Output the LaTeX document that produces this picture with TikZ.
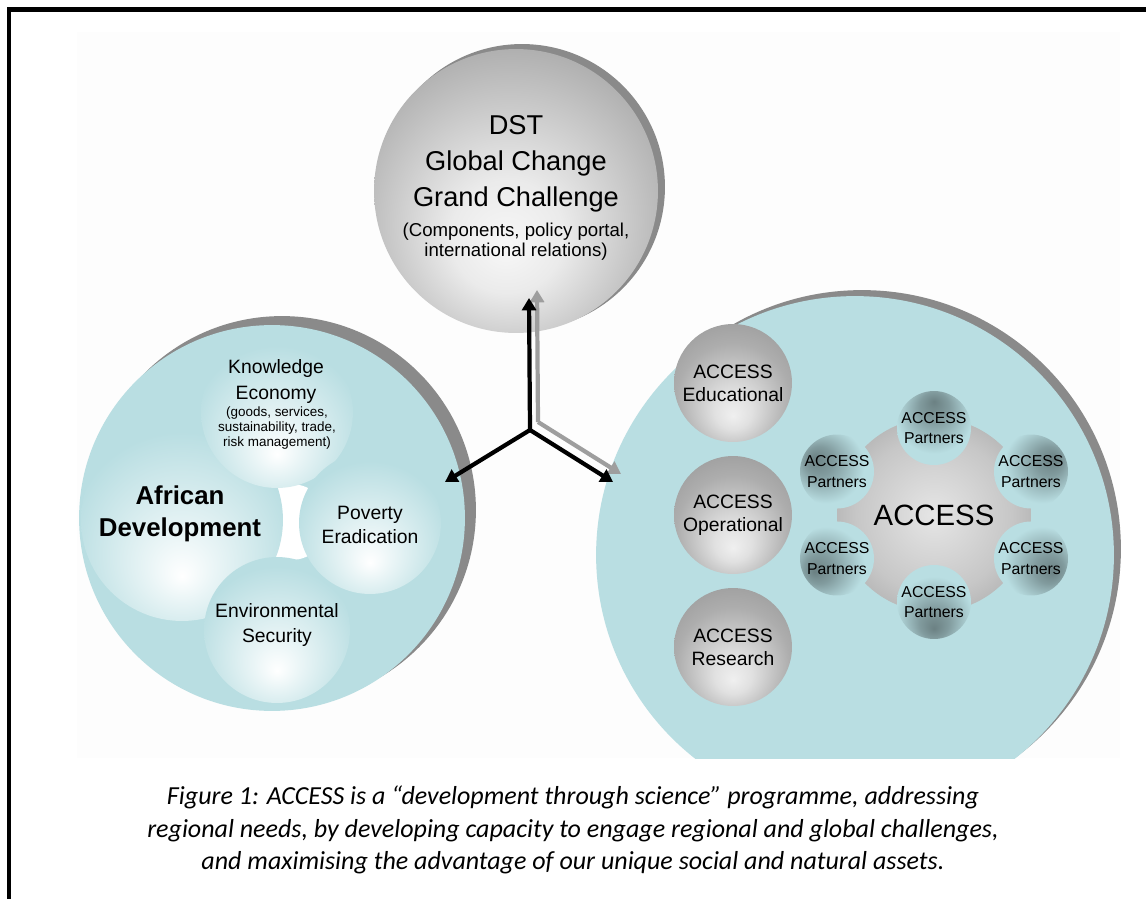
\documentclass[tikz,border=0pt]{standalone}
\usepackage{fontspec}
\setmainfont{Liberation Sans}
\newfontfamily\capfont{Carlito}
\usetikzlibrary{arrows.meta}

\definecolor{seafoam}{RGB}{185,222,226}
\definecolor{rimgrey}{RGB}{138,138,138}
\definecolor{spokegrey}{RGB}{158,158,158}

% shaded balls
\pgfdeclareradialshading{greyball}{\pgfpoint{-2bp}{-10bp}}{color(0bp)=(black!3); color(10bp)=(black!8); color(30bp)=(black!32); color(50bp)=(black!50)}
\pgfdeclareradialshading{smallball}{\pgfpoint{0bp}{-14bp}}{color(0bp)=(black!6); color(8bp)=(black!12); color(24bp)=(black!32); color(50bp)=(black!50)}
\pgfdeclareradialshading{bubble}{\pgfpoint{0bp}{-14bp}}{color(0bp)=(white); color(8bp)=(white!70!seafoam); color(28bp)=(seafoam); color(47bp)=(seafoam); color(50bp)=(seafoam!88!black)}
\pgfdeclareradialshading{cog}{\pgfpoint{0bp}{0bp}}{color(0bp)=(black!10); color(20bp)=(black!22); color(40bp)=(black!42); color(50bp)=(black!48)}
\pgfdeclareradialshading{partnerglow}{\pgfpoint{0bp}{18bp}}{color(0bp)=(black!42!seafoam); color(10bp)=(black!30!seafoam); color(26bp)=(seafoam); color(50bp)=(seafoam)}

\newcommand{\fs}[2]{\fontsize{#1}{#2}\selectfont}

\begin{document}
\begin{tikzpicture}[x=0.02cm,y=-0.02cm,
    disc/.style={circle,inner sep=0pt,minimum size=#1*0.04cm},
    rim/.style={fill=rimgrey},
    lbl/.style={align=center,inner sep=0pt},
    spoke/.style={line width=2.4pt,-{Triangle[length=7pt,width=8pt]}},
    spokeshadow/.style={spoke,spokegrey}]
  \useasboundingbox (0,0) rectangle (1146,899);
  \fill[black!0.6] (77,32) rectangle (1120,758);
  \draw[line width=2.5pt] (1146,9.5) -- (8.8,9.5) -- (8.8,899);

  % top ball
  \node[disc=143,rim] at (522,187) {};
  \node[disc=142,shading=greyball] (dst) at (516,191) {};
  \node[lbl,font=\fs{15.5pt}{20.4pt}] (dsttitle) at (516,164) {DST\\Global Change\\Grand Challenge};
  \node[lbl,font=\fs{10.6pt}{11.4pt}] (dstsub) at (516,242) {(Components, policy portal,\\international relations)};

  % left circle
  \node[disc=194,rim] at (282,510) {};
  \node[disc=193,fill=seafoam] (africa) at (272,518) {};
  \fill[white] (291,522) circle (38);
  \node[disc=101,shading=bubble] (afdev) at (182,520) {};
  \node[disc=76,shading=bubble] (knowledge) at (277,412) {};
  \node[disc=73,shading=bubble] (environment) at (277,630) {};
  \node[disc=71,shading=bubble] (poverty) at (370,523) {};
  \node[lbl,font=\bfseries\fs{14.7pt}{18.1pt}] at (180,514) {African\\Development};
  \node[lbl,font=\fs{11pt}{15.3pt}] at (276,381.5) {Knowledge\\Economy};
  \node[lbl,font=\fs{7.65pt}{8.8pt}] at (277,428) {(goods, services,\\sustainability, trade,\\risk management)};
  \node[lbl,font=\fs{11pt}{13.6pt}] at (370,525) {Poverty\\Eradication};
  \node[lbl,font=\fs{11pt}{14.2pt}] at (277,625) {Environmental\\Security};

  % right circle, cut off at the foot of the panel
  \begin{scope}
    \clip (0,0) rectangle (1146,758);
    \node[disc=259,rim] at (862,549) {};
    \node[disc=259,fill=seafoam] (access) at (855,555) {};
  \end{scope}
  \node[disc=59,shading=smallball] (edu) at (733,383) {};
  \node[disc=59,shading=smallball] (ops) at (733,515) {};
  \node[disc=59,shading=smallball] (res) at (733,647) {};
  \node[lbl,font=\fs{11pt}{13.2pt}] at (edu) {ACCESS\\Educational};
  \node[lbl,font=\fs{11pt}{13.2pt}] at (ops) {ACCESS\\Operational};
  \node[lbl,font=\fs{11pt}{13.2pt}] at (res) {ACCESS\\Research};

  % ACCESS cog with its partners
  \node[disc=97,shading=cog] (hubcog) at (934,515) {};
  \foreach \a in {90,30,-30,-90,-150,150}{
    \pgfmathsetmacro{\sa}{\a-90}
    \node[disc=37,shading=partnerglow,shading angle=\sa,
          lbl,font=\fs{9pt}{11.8pt}] (partner\a) at ({934+112*cos(\a)},{515-87*sin(\a)}) {ACCESS\\Partners};
  }
  \node[lbl,font=\fs{16.7pt}{20pt}] at (hubcog) {ACCESS};

  % arrows out of the hub
  \coordinate (hub) at (530,430);
  \coordinate (tipN) at (529,298);
  \coordinate (tipW) at (445,482);
  \coordinate (tipE) at (613,482);
  \draw[spokeshadow] ([shift={(8,-8)}]hub) -- ([shift={(8,-8)}]tipN);
  \draw[spokeshadow] ([shift={(8,-8)}]hub) -- ([shift={(8,-8)}]tipE);
  \draw[spoke] (hub) -- (tipN);
  \draw[spoke] (hub) -- (tipW);
  \draw[spoke] (hub) -- (tipE);

  \node[lbl,font=\capfont\itshape\fs{14.8pt}{18.4pt}] (caption) at (573,830)
    {Figure 1: ACCESS is a “development through science” programme, addressing\\
     regional needs, by developing capacity to engage regional and global challenges,\\
     and maximising the advantage of our unique social and natural assets.};
\end{tikzpicture}
\end{document}
